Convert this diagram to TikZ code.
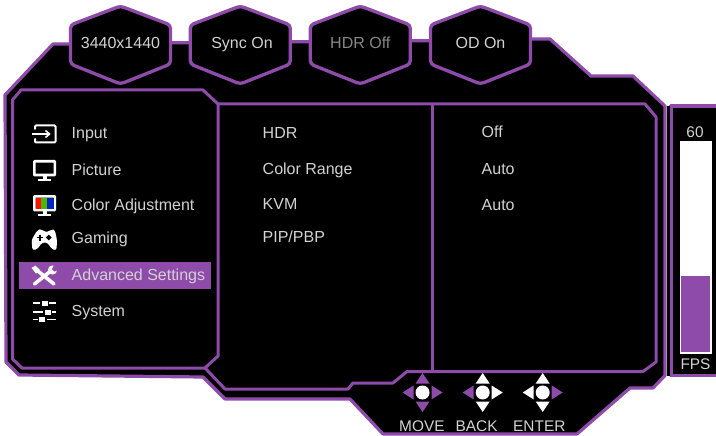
\documentclass[tikz,border=0pt]{standalone}
\usepackage{fontspec}
\setmainfont{Liberation Sans}
\definecolor{osdp}{HTML}{8E4BA9}
\definecolor{osdt}{HTML}{D2D2D2}
\tikzset{
  x=1pt,y=-1pt,
  frame/.style={draw=osdp,line width=3.2pt,line join=round,fill=black},
  inner frame/.style={draw=osdp,line width=3pt,line join=round},
  hexa/.style={draw=osdp,line width=3.3pt,fill=black,rounded corners=3.5pt},
  lab/.style={text=osdt,font=\fontsize{16}{18}\selectfont,inner sep=0pt,anchor=base west},
  clab/.style={text=osdt,font=\fontsize{16}{18}\selectfont,inner sep=0pt,anchor=base},
  small lab/.style={text=osdt,font=\fontsize{15.4}{18}\selectfont,inner sep=0pt,anchor=base},
  icon/.style={draw=white,line width=2pt,line cap=round,line join=round},
}
\newcommand{\hexat}[5]{%
  \draw[hexa] (#2-50,25) -- (#2,6) -- (#2+50,25) -- (#2+50,64) -- (#2,84) -- (#2-50,64) -- cycle;
  \node[clab,text=#5] (#1) at (#3,49) {#4};}
\newcommand{\dpad}[6]{%
  \begin{scope}[shift={(#2,392.5)}]
  \node[circle,fill=white,minimum size=14pt,inner sep=0pt] (#1) at (0,0) {};
  \fill[#3] (0,-19.5) -- (7,-9) -- (-7,-9) -- cycle;
  \fill[#4] (0,19.5) -- (7,9) -- (-7,9) -- cycle;
  \fill[#5] (-20,0) -- (-9,-7) -- (-9,7) -- cycle;
  \fill[#6] (20,0) -- (9,-7) -- (9,7) -- cycle;
  \end{scope}}
\newcommand{\monitor}[1]{%
  \draw[white,line width=2.6pt,fill=black,rounded corners=0.5pt] (34.3,#1+1.3) rectangle (54.9,#1+15);
  \fill[white] (42.5,#1+16) rectangle (46.5,#1+20);
  \fill[white] (38,#1+19) rectangle (50.5,#1+21);}
\begin{document}
\begin{tikzpicture}
\useasboundingbox (0,0) rectangle (716,436);
\begin{scope}
\clip (0,0) rectangle (716,436);
% outer body
\path[frame] (5,95) -- (53,44) -- (120,44) -- (120,42.7) -- (240,42.7) -- (240,41.7)
  -- (360,41.7) -- (360,40.7) -- (480,40.7) -- (480,39) -- (550,39) -- (591,76)
  -- (633,76) -- (665,106) -- (665,375.5) -- (653,388) -- (630,388) -- (577,434)
  -- (383,434) -- (350,399) -- (225,399) -- (203,377) -- (19,375) -- (6,362) -- cycle;
% right bar
\path[frame] (671,106) -- (720,106) -- (720,375.5) -- (671,375.5) -- cycle;
\fill[black] (666.5,106) rectangle (669.5,375.5);
\fill[white] (680,141) rectangle (712,353.5);
\fill[osdp] (681,276) rectangle (710,352);
\node[small lab] (fpsval) at (695,138) {60};
\node[small lab] (fps) at (695.5,369.5) {FPS};
% hexagons
\hexat{res}{120.5}{120.5}{3440x1440}{osdt}
\hexat{sync}{240.3}{242}{Sync On}{osdt}
\hexat{hdr}{360.3}{360.3}{HDR Off}{gray!95}
\hexat{od}{480.5}{480.5}{OD On}{osdt}
% inner frames
\draw[inner frame] (12.5,100) -- (21,90) -- (203,90) -- (218,104) -- (645,104) -- (656,117)
  -- (656,362) -- (643,371.5) -- (407,371.5) -- (393,383) -- (353,383) -- (348,389)
  -- (225,389) -- (205,368) -- (22,368) -- (12.5,359) -- cycle;
\draw[inner frame] (218,104) -- (218,356) -- (205,368);
\draw[inner frame] (432,104) -- (432,371.5);
\end{scope}
% highlight
\fill[osdp] (19,262) rectangle (211,289);
% menu labels
\node[lab] (m1) at (71.5,138.5) {Input};
\node[lab] (m2) at (71.5,175.5) {Picture};
\node[lab] (m3) at (71.5,210) {Color Adjustment};
\node[lab] (m4) at (71.5,243) {Gaming};
\node[lab] (m5) at (71.5,280) {Advanced Settings};
\node[lab] (m6) at (71.5,316) {System};
\node[lab] (s1) at (262.5,138.5) {HDR};
\node[lab] (s2) at (262.5,174.5) {Color Range};
\node[lab] (s3) at (262.5,209.5) {KVM};
\node[lab] (s4) at (262.5,242.5) {PIP/PBP};
\node[lab] (v1) at (481.5,138) {Off};
\node[lab] (v2) at (481.5,175) {Auto};
\node[lab] (v3) at (481.5,210) {Auto};
% input icon
\draw[icon,line width=2pt,rounded corners=1pt] (35,129) -- (35,125.5) -- (55.5,125.5) -- (55.5,142.5) -- (35,142.5) -- (35,139);
\draw[white,line width=2pt] (32,134) -- (48,134);
\draw[white,line width=1.6pt] (45.5,130.5) -- (49.5,134) -- (45.5,137.5);
% picture icon
\monitor{160}
% colour icon
\monitor{195}
\fill[red!85!orange] (35.6,197.6) rectangle (41,208.7);
\fill[green!60!black!70!yellow] (41,197.6) rectangle (47,208.7);
\fill[blue!70!black!85!cyan] (47,197.6) rectangle (53.6,208.7);
% gamepad icon
\fill[white,rounded corners=2.6pt] (37.5,230) -- (41,229) -- (45,232) -- (48,232) -- (52,229) -- (55,230.5) -- (57,240) -- (56.5,250.5)
  -- (51.5,249) -- (47.5,242.5) -- (42,242.5) -- (37.5,249) -- (32.5,250.5) -- (31.5,240) -- cycle;
\draw[black,line width=1.6pt] (37,237.5) -- (43,237.5) (40,234.5) -- (40,240.5);
\fill[black] (48.8,234.6) -- (51.7,237.5) -- (48.8,240.4) -- (45.9,237.5) -- cycle;
% tools icon
\draw[white,line width=3.6pt,line cap=round] (34.5,284) -- (50,271.5);
\fill[white] (52.5,270) circle[radius=4.6pt];
\fill[osdp] (54,265) -- (59,269.5) -- (54.5,271.5) -- (52,269) -- cycle;
\draw[white,line width=3.6pt,line cap=round] (36,269.5) -- (54,284);
\fill[white] (31.5,268) -- (35.5,265.5) -- (40,270) -- (36,273.5) -- cycle;
% system icon
\foreach \yy/\xx in {303/44.5,312/47.7,319.5/42}{
  \draw[white,line width=1.8pt] (33,\yy) -- (56,\yy);
  \fill[black] (\xx-4.5,\yy-3) rectangle (\xx+4.5,\yy+3);
  \fill[white] (\xx-3,\yy-2.5) rectangle (\xx+3,\yy+2.5);
}
% pads
\dpad{move}{422.5}{osdp}{osdp}{osdp}{osdp}
\dpad{back}{482.7}{white}{white}{osdp}{white}
\dpad{enter}{542.7}{white}{white}{white}{osdp}
\node[small lab,anchor=base west] (lmove) at (399,431) {MOVE};
\node[small lab,anchor=base west] (lback) at (455.5,431) {BACK};
\node[small lab,anchor=base west] (lenter) at (513,431) {ENTER};
\end{tikzpicture}
\end{document}
